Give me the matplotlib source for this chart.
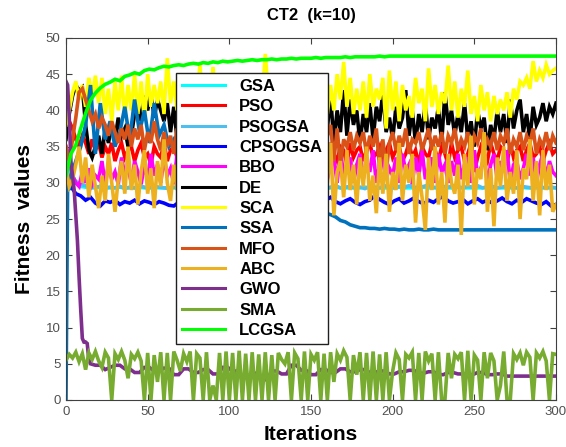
import numpy as np
import matplotlib
matplotlib.use("Agg")
import matplotlib.pyplot as plt

plt.rcParams['font.family'] = ['Liberation Sans', 'DejaVu Sans']

# iteration grids: every 2nd iteration for the very noisy curves,
# every 3rd for the smooth ones, denser starts for GWO and SSA
iters2 = np.arange(0, 301, 2)
iters3 = np.arange(0, 301, 3)
gwo_iters = np.r_[np.arange(0, 15), np.arange(15, 301, 3)]
ssa_iters = np.r_[0, 1, 2, np.arange(3, 301, 3)]

gsa = [34.0, 31.5, 30.0, 29.5, 29.4, 29.3, 29.3, 29.4, 29.3, 29.3,
       29.3, 29.4, 29.3, 29.3, 29.3, 29.4, 29.3, 29.3, 29.4, 29.3,
       29.3, 29.3, 29.3, 29.3, 29.4, 29.3, 29.3, 29.3, 29.3, 29.4,
       29.3, 29.3, 29.3, 29.3, 29.3, 29.4, 29.3, 29.3, 29.3, 29.3,
       29.3, 29.3, 29.4, 29.3, 29.3, 29.3, 29.3, 29.3, 29.4, 29.3,
       29.3, 29.3, 29.3, 29.3, 29.3, 29.4, 29.3, 29.3, 29.3, 29.3,
       29.3, 29.4, 29.3, 29.3, 29.3, 29.3, 29.3, 29.3, 29.4, 29.3,
       29.3, 29.3, 29.3, 29.4, 29.3, 29.3, 29.3, 29.3, 29.3, 29.3,
       29.4, 29.3, 29.3, 29.3, 29.3, 29.3, 29.4, 29.3, 29.3, 29.3,
       29.3, 29.3, 29.3, 29.4, 29.3, 29.3, 29.3, 29.3, 29.3, 29.3,
       29.3]

pso = [37.0, 38.5, 37.5, 36.0, 35.0, 36.5, 35.5, 34.0, 36.0, 34.5,
       35.5, 33.5, 35.0, 34.0, 35.5, 33.0, 34.5, 35.5, 33.5, 34.5,
       35.0, 33.0, 34.5, 35.5, 33.5, 34.0, 32.5, 35.0, 34.0, 33.5,
       35.5, 33.0, 34.5, 35.0, 33.5, 34.5, 32.5, 35.5, 34.0, 33.0,
       35.0, 33.5, 34.5, 35.5, 33.0, 34.0, 35.0, 32.5, 34.5, 35.5,
       33.5, 34.0, 35.0, 33.0, 34.5, 35.5, 33.5, 34.0, 32.5, 35.0,
       34.0, 33.0, 35.5, 34.5, 33.5, 35.0, 32.5, 34.0, 35.5, 33.5,
       34.5, 35.0, 33.0, 34.0, 35.5, 33.5, 34.5, 32.5, 35.0, 34.0,
       33.5, 35.5, 34.0, 33.0, 35.0, 34.5, 32.5, 35.5, 33.5, 34.5,
       35.0, 33.0, 34.5, 35.5, 33.5, 34.0, 35.0, 32.5, 34.5, 35.5,
       33.5, 34.5, 35.0, 33.0, 34.0, 35.5, 33.5, 34.5, 32.5, 35.0,
       34.0, 33.5, 35.5, 34.5, 33.0, 35.0, 34.0, 32.5, 35.5, 33.5,
       34.5, 35.0, 33.0, 34.0, 35.5, 31.5, 33.5, 35.0, 34.0, 33.0,
       35.5, 34.0, 33.0, 35.0, 34.5, 32.5, 35.5, 33.5, 34.5, 35.0,
       33.0, 34.5, 35.5, 33.5, 34.0, 35.0, 33.0, 34.5, 35.5, 34.0,
       34.5]

psogsa = [33.0, 31.0, 30.2, 29.8, 29.6, 29.5, 29.4, 29.5, 29.3, 29.4,
          29.3, 29.5, 29.2, 29.4, 29.3, 29.6, 29.4, 29.3, 29.5, 29.4,
          29.3, 29.2, 29.4, 29.3, 29.5, 29.3, 29.2, 29.4, 29.3, 29.5,
          29.4, 29.3, 29.2, 29.4, 29.3, 29.5, 29.4, 29.3, 29.2, 29.4,
          29.5, 29.3, 29.4, 29.6, 29.3, 29.4, 29.2, 29.5, 29.3, 29.4,
          29.3, 29.5, 29.4, 29.2, 29.4, 29.6, 29.3, 29.4, 29.5, 29.3,
          29.4, 29.2, 29.5, 29.4, 29.3, 29.6, 29.4, 29.3, 29.5, 29.4,
          29.6, 29.4, 29.3, 29.5, 29.7, 29.4, 29.3, 29.5, 29.4, 29.6,
          29.4, 29.3, 29.5, 29.4, 29.6, 29.3, 29.4, 29.5, 29.3, 29.4,
          29.6, 29.4, 29.3, 29.5, 29.4, 29.3, 29.5, 29.4, 29.3, 29.4,
          29.3]

cpsogsa = [31.0, 29.5, 28.5, 28.2, 27.6, 28.0, 27.2, 26.8, 27.5, 27.3,
           27.6, 27.0, 27.4, 27.2, 27.6, 27.1, 27.5, 27.3, 27.0, 27.4,
           27.2, 26.9, 26.8, 27.3, 27.6, 27.1, 27.4, 27.8, 27.2, 27.5,
           27.0, 27.4, 27.7, 27.1, 27.3, 27.6, 27.0, 27.4, 27.2, 27.8,
           27.3, 27.0, 27.5, 27.2, 27.6, 27.1, 27.4, 27.7, 27.0, 27.3,
           27.5, 27.8, 27.2, 27.6, 28.0, 27.4, 27.1, 27.5, 27.8, 27.3,
           27.0, 27.4, 27.6, 28.2, 27.7, 27.3, 27.0, 27.5, 27.8, 27.2,
           27.5, 27.9, 27.4, 27.1, 27.6, 27.3, 27.8, 28.1, 27.5, 27.2,
           27.4, 27.7, 27.1, 27.5, 27.8, 27.3, 27.6, 27.2, 27.5, 27.9,
           27.4, 27.1, 27.6, 27.3, 27.8, 27.5, 27.2, 27.0, 27.4, 26.8,
           27.0]

bbo = [35.0, 33.5, 31.0, 30.0, 29.5, 31.5, 30.0, 32.0, 29.8, 31.0,
       30.5, 33.0, 29.8, 32.5, 30.5, 31.5, 29.8, 33.5, 31.0, 32.0,
       30.0, 33.0, 31.5, 29.8, 32.5, 30.5, 34.0, 31.0, 32.5, 30.0,
       33.5, 31.0, 32.0, 29.8, 34.0, 30.5, 32.5, 31.0, 33.0, 30.0,
       32.0, 34.0, 30.5, 33.0, 31.0, 29.8, 32.5, 34.5, 30.5, 32.0,
       31.0, 33.5, 30.0, 32.5, 34.0, 30.5, 32.0, 33.5, 29.8, 31.5,
       33.0, 30.5, 34.0, 31.5, 32.5, 30.0, 33.5, 31.0, 34.0, 30.5,
       32.0, 33.5, 30.0, 34.5, 31.5, 32.5, 30.0, 33.0, 31.0, 34.0,
       30.5, 32.5, 33.5, 30.0, 34.5, 31.0, 32.0, 33.5, 30.0, 32.5,
       34.0, 30.5, 33.0, 31.5, 34.5, 30.0, 32.5, 33.0, 30.5, 32.0,
       31.0, 33.5, 30.0, 34.0, 31.5, 32.5, 29.8, 33.5, 31.0, 34.5,
       30.5, 32.0, 33.5, 30.0, 34.0, 31.5, 32.5, 30.0, 33.0, 31.0,
       34.0, 30.5, 32.5, 33.5, 30.0, 34.5, 31.0, 32.0, 33.5, 30.0,
       32.5, 34.0, 30.5, 33.0, 31.5, 34.5, 30.0, 32.5, 33.0, 30.5,
       32.0, 34.0, 31.0, 33.5, 30.0, 32.5, 34.0, 30.5, 33.0, 31.5,
       31.0]

de = [36.0, 39.5, 42.0, 43.5, 42.8, 43.2, 38.0, 34.5, 33.5, 35.0,
      36.5, 34.0, 37.5, 35.5, 38.0, 36.0, 39.0, 36.5, 37.5, 35.0,
      36.5, 39.5, 41.0, 38.5, 42.0, 40.0, 42.5, 39.0, 41.5, 40.0,
      38.5, 41.0, 37.0, 40.5, 36.0, 39.5, 37.5, 41.0, 36.5, 39.0,
      37.0, 40.5, 36.0, 39.5, 38.0, 41.0, 36.5, 40.0, 37.5, 39.0,
      36.0, 40.5, 37.0, 39.5, 36.5, 41.0, 37.5, 40.0, 36.0, 39.0,
      37.5, 40.5, 36.5, 39.0, 37.0, 41.5, 36.0, 39.5, 38.0, 40.5,
      36.5, 39.0, 37.5, 40.5, 36.0, 39.5, 37.0, 41.0, 36.5, 40.0,
      37.5, 42.0, 35.5, 40.0, 37.0, 42.8, 36.5, 41.5, 38.0, 40.0,
      35.5, 39.5, 37.0, 41.0, 36.0, 40.5, 38.5, 42.5, 37.0, 39.0,
      36.0, 40.5, 37.5, 39.0, 42.8, 36.5, 40.0, 35.5, 39.5, 37.0,
      41.0, 36.0, 39.0, 37.5, 40.5, 35.5, 42.5, 38.0, 40.0, 36.5,
      39.5, 37.0, 41.0, 36.0, 38.5, 35.0, 40.0, 37.5, 39.0, 34.5,
      38.0, 36.0, 40.0, 37.0, 39.5, 35.5, 41.5, 37.5, 40.0, 41.5,
      37.0, 39.5, 36.0, 40.5, 38.0, 39.0, 41.0, 38.5, 40.5, 39.5,
      41.0]

sca = [38.0, 40.0, 42.5, 44.0, 41.5, 43.5, 40.5, 44.5, 42.0, 44.8,
       41.0, 44.5, 39.5, 43.0, 38.5, 44.0, 40.0, 44.8, 39.0, 43.5,
       40.0, 45.0, 39.5, 44.0, 38.5, 45.0, 40.5, 43.5, 41.0, 44.0,
       39.5, 47.2, 41.0, 44.0, 40.0, 43.5, 39.0, 44.5, 40.5, 43.0,
       41.5, 46.3, 40.0, 44.0, 39.5, 46.0, 41.0, 43.5, 39.0, 44.5,
       40.5, 43.0, 39.5, 44.5, 41.0, 43.5, 39.0, 44.0, 40.5, 43.0,
       41.0, 47.8, 42.0, 44.0, 39.5, 43.5, 40.5, 44.0, 39.0, 43.0,
       40.0, 44.5, 39.5, 43.0, 41.0, 44.5, 39.0, 43.5, 40.5, 44.0,
       39.5, 43.5, 40.0, 45.0, 41.5, 46.7, 40.5, 44.5, 39.5, 43.0,
       40.0, 44.0, 39.0, 45.0, 40.5, 43.0, 41.5, 44.5, 37.5, 45.5,
       40.0, 44.0, 38.5, 43.5, 40.0, 42.0, 39.0, 44.5, 41.0, 43.0,
       38.5, 45.8, 40.5, 43.5, 39.5, 42.5, 41.0, 46.2, 40.0, 44.0,
       39.0, 43.0, 40.5, 45.5, 39.5, 42.0, 38.5, 43.5, 40.0, 42.5,
       38.5, 42.0, 39.5, 41.5, 40.0, 42.5, 39.0, 43.0, 41.5, 44.0,
       43.5, 44.5, 43.0, 46.8, 44.0, 45.5, 44.5, 46.3, 45.0, 45.5,
       45.8]

ssa = [0.0, 30.0, 29.0,
       31.0, 33.0, 35.0, 38.0, 43.5, 34.0, 41.0, 36.0, 38.5, 35.0,
       37.0, 40.5, 36.0, 41.5, 37.0, 40.0, 35.5, 41.0, 36.5, 38.0,
       35.0, 36.0, 34.0, 35.0, 33.0, 34.0, 32.0, 33.0, 31.5, 32.0,
       30.5, 31.0, 30.0, 30.0, 29.0, 29.5, 28.5, 28.5, 28.0, 28.0,
       27.5, 27.5, 27.0, 27.0, 26.8, 26.5, 26.5, 26.3, 26.2, 26.0,
       26.0, 25.8, 25.8, 25.6, 25.3, 24.8, 24.6, 24.2, 24.0, 23.8,
       23.8, 23.7, 23.7, 23.6, 23.7, 23.6, 23.6, 23.5, 23.6, 23.5,
       23.5, 23.6, 23.5, 23.5, 23.6, 23.5, 23.5, 23.5, 23.5, 23.5,
       23.5, 23.5, 23.5, 23.5, 23.5, 23.5, 23.5, 23.5, 23.5, 23.5,
       23.5, 23.5, 23.5, 23.5, 23.5, 23.5, 23.5, 23.5, 23.5, 23.5]

mfo = [35.0, 33.0, 36.0, 39.0, 42.5, 43.0, 41.5, 40.0, 38.5, 39.5,
       37.5, 39.0, 38.0, 36.5, 38.5, 37.0, 35.5, 37.5, 36.0, 38.0,
       35.0, 37.5, 36.0, 38.0, 34.5, 37.0, 35.5, 38.5, 36.0, 34.5,
       37.0, 35.0, 36.5, 34.0, 37.5, 35.5, 36.0, 34.5, 37.0, 35.0,
       36.5, 34.5, 37.5, 35.0, 36.0, 34.0, 37.0, 35.5, 36.5, 34.5,
       37.0, 35.0, 36.0, 34.5, 37.5, 35.5, 36.5, 34.0, 37.0, 35.0,
       36.5, 34.5, 37.0, 35.5, 36.0, 34.0, 37.5, 35.0, 36.5, 35.5,
       37.0, 34.5, 36.0, 35.0, 37.5, 34.5, 36.5, 35.5, 37.0, 34.0,
       36.5, 38.0, 33.0, 37.5, 32.5, 36.0, 35.0, 37.0, 34.5, 36.5,
       35.5, 37.0, 34.0, 36.5, 35.0, 37.5, 32.0, 36.0, 31.5, 35.5,
       37.0, 34.5, 36.5, 35.0, 37.5, 34.0, 36.0, 35.5, 37.0, 34.5,
       36.0, 37.5, 34.5, 36.5, 35.0, 37.0, 34.0, 36.5, 35.5, 37.5,
       34.5, 36.0, 35.0, 37.0, 34.0, 36.5, 35.5, 37.5, 34.5, 36.0,
       35.0, 37.0, 34.5, 36.5, 35.5, 37.5, 34.0, 36.0, 35.0, 37.0,
       34.5, 36.5, 35.5, 37.5, 34.0, 36.0, 35.0, 37.0, 34.5, 36.5,
       35.5]

abc = [32.0, 29.5, 30.5, 32.5, 35.0, 30.0, 33.5, 28.0, 32.5, 29.5,
       26.5, 31.0, 27.5, 34.0, 30.0, 26.0, 30.5, 33.0, 28.5, 35.0,
       29.0, 32.5, 27.0, 31.5, 34.5, 28.5, 32.0, 26.5, 33.0, 29.5,
       36.0, 30.0, 27.5, 32.5, 29.0, 34.5, 27.0, 31.5, 35.0, 28.5,
       30.5, 33.5, 26.5, 31.0, 34.0, 28.0, 32.5, 29.5, 35.5, 27.5,
       31.0, 33.5, 29.0, 32.0, 35.0, 28.5, 30.5, 26.0, 33.0, 29.0,
       34.5, 27.5, 31.5, 33.5, 28.0, 31.0, 26.0, 35.0, 29.5, 32.0,
       28.0, 33.5, 30.0, 34.0, 27.0, 31.5, 29.0, 33.5, 26.5, 32.0,
       30.0, 35.5, 25.5, 31.5, 33.0, 28.0, 34.5, 29.0, 32.5, 27.0,
       33.5, 29.5, 35.0, 27.5, 31.0, 25.8, 33.5, 28.5, 34.0, 26.0,
       31.5, 29.0, 35.5, 27.5, 32.5, 30.0, 34.0, 24.5, 31.5, 28.0,
       23.5, 33.5, 29.0, 35.0, 27.0, 31.5, 24.5, 34.0, 30.0, 28.5,
       32.5, 22.8, 34.0, 29.5, 36.5, 27.0, 32.0, 30.5, 37.0, 26.0,
       32.0, 24.0, 33.5, 29.5, 35.0, 27.5, 31.5, 28.5, 34.5, 25.0,
       32.0, 30.5, 36.0, 27.5, 33.0, 25.5, 34.5, 29.0, 32.5, 26.0,
       27.0]

gwo = [44.0, 43.5, 39.0, 33.0, 31.0, 29.0, 25.5, 22.0, 17.0, 12.5,
       8.5, 8.0, 8.0, 7.8, 5.5,
       5.0, 4.8, 4.8, 4.2, 4.5, 4.8, 4.8, 4.3, 4.3, 3.8,
       3.8, 4.5, 4.5, 4.0, 4.0, 4.4, 4.4, 3.5, 3.5, 4.3,
       4.3, 3.8, 3.8, 4.2, 4.2, 3.6, 3.6, 4.5, 4.5, 4.0,
       4.0, 3.2, 3.2, 3.7, 3.7, 2.8, 2.8, 4.0, 4.0, 3.6,
       3.6, 4.8, 4.8, 4.1, 4.1, 3.5, 3.5, 4.2, 4.2, 3.8,
       3.8, 4.3, 4.3, 3.9, 3.9, 4.2, 4.2, 3.8, 3.8, 4.0,
       4.0, 3.6, 3.6, 3.9, 3.9, 4.1, 4.1, 3.7, 3.7, 3.9,
       3.9, 3.5, 3.5, 3.8, 3.8, 3.6, 3.6, 3.5, 3.5, 3.8,
       3.8, 3.5, 3.5, 3.6, 3.6, 3.3, 3.3, 3.3, 3.3, 3.3,
       3.3, 3.3, 3.3, 3.3, 3.3, 3.3]

sma = [5.5, 6.3, 5.8, 6.6, 5.3, 6.4, 4.2, 6.5, 5.6, 6.7,
       5.4, 4.5, 6.6, 5.8, 0.0, 6.4, 5.6, 6.7, 5.5, 3.0,
       6.3, 5.7, 6.6, 5.4, 0.0, 6.5, 0.0, 6.2, 2.5, 6.6,
       0.0, 6.5, 0.0, 6.7, 5.5, 4.0, 6.4, 5.3, 6.7, 0.0,
       6.4, 5.8, 0.0, 6.6, 0.0, 2.0, 0.0, 6.5, 0.0, 6.7,
       0.0, 6.5, 0.0, 6.8, 0.0, 6.4, 0.0, 6.6, 0.0, 6.3,
       0.0, 6.6, 0.0, 6.2, 0.0, 6.5, 5.6, 5.0, 6.6, 0.0,
       6.5, 5.7, 0.0, 6.7, 0.0, 6.3, 5.5, 6.6, 0.0, 6.4,
       0.0, 6.6, 2.5, 6.4, 5.5, 6.8, 5.9, 0.0, 6.2, 3.5,
       6.6, 0.0, 6.5, 0.0, 6.7, 0.0, 6.3, 0.0, 6.6, 0.0,
       4.0, 6.5, 5.6, 0.0, 6.3, 5.8, 6.6, 0.0, 6.5, 0.0,
       6.7, 5.4, 6.4, 0.0, 6.6, 0.0, 0.0, 6.5, 3.0, 6.3,
       5.7, 6.6, 0.0, 6.8, 0.0, 6.2, 5.5, 0.0, 6.6, 3.0,
       6.5, 5.4, 0.0, 2.0, 6.7, 0.0, 0.0, 6.4, 5.6, 6.5,
       4.8, 6.6, 5.9, 0.0, 6.5, 5.8, 6.7, 5.4, 0.0, 6.4,
       6.3]

lcgsa = [31.0, 34.0, 35.2, 37.5, 39.6, 41.4, 42.4, 43.1, 43.6, 43.9,
         44.3, 44.1, 44.7, 44.9, 45.2, 45.0, 45.5, 45.7, 45.6, 45.9,
         46.1, 46.0, 46.2, 46.3, 46.2, 46.4, 46.5, 46.4, 46.6, 46.5,
         46.7, 46.6, 46.8, 46.7, 46.8, 46.9, 46.8, 46.9, 47.0, 46.9,
         47.0, 47.0, 47.1, 47.0, 47.1, 47.1, 47.2, 47.1, 47.2, 47.2,
         47.2, 47.3, 47.2, 47.3, 47.3, 47.3, 47.3, 47.4, 47.3, 47.4,
         47.4, 47.4, 47.4, 47.4, 47.5, 47.4, 47.5, 47.5, 47.5, 47.5,
         47.5, 47.5, 47.5, 47.5, 47.5, 47.5, 47.5, 47.5, 47.5, 47.5,
         47.5, 47.5, 47.5, 47.5, 47.5, 47.5, 47.5, 47.5, 47.5, 47.5,
         47.5, 47.5, 47.5, 47.5, 47.5, 47.5, 47.5, 47.5, 47.5, 47.5,
         47.5]

labels = ['GSA', 'PSO', 'PSOGSA', 'CPSOGSA', 'BBO', 'DE', 'SCA', 'SSA',
          'MFO', 'ABC', 'GWO', 'SMA', 'LCGSA']
colors = ['#00FFFF', '#FF0000', '#4DBEEE', '#0000FF', '#FF00FF', '#000000',
          '#FFFF00', '#0072BD', '#D95319', '#EDB120', '#7E2F8E', '#77AC30',
          '#00FF00']

series = [(iters3, gsa), (iters2, pso), (iters3, psogsa), (iters3, cpsogsa),
          (iters2, bbo), (iters2, de), (iters2, sca), (ssa_iters, ssa),
          (iters2, mfo), (iters2, abc), (gwo_iters, gwo), (iters2, sma),
          (iters3, lcgsa)]

fig = plt.figure(figsize=(5.66, 4.47), dpi=100)
ax = fig.add_axes([66 / 566, 47 / 447, 490 / 566, 362 / 447])

for (x, y), lab, col in zip(series, labels, colors):
    ax.plot(x, y, color=col, lw=2.6, label=lab, solid_joinstyle='miter')

ax.set_xlim(0, 300)
ax.set_ylim(0, 50)
ax.set_xticks(np.arange(0, 301, 50))
ax.set_yticks(np.arange(0, 51, 5))
ax.tick_params(direction='in', top=True, right=True, length=4, width=0.8,
               labelsize=9.5, labelcolor='#505050', color='#404040', pad=4)
for sp in ax.spines.values():
    sp.set_color('#404040')
    sp.set_linewidth(0.8)

ax.set_title('CT2  (k=10)', fontsize=12, fontweight='bold', pad=13)
ax.set_xlabel('Iterations', fontsize=15, fontweight='bold', labelpad=5)
ax.set_ylabel('Fitness  values', fontsize=15, fontweight='bold', labelpad=8)

leg = ax.legend(loc='upper left', bbox_to_anchor=(110 / 490, 327 / 362),
                borderaxespad=0, fontsize=12, handlelength=2.6,
                handletextpad=0.85, labelspacing=0.32, borderpad=0.35,
                fancybox=False, framealpha=1, edgecolor='#202020')
for t in leg.get_texts():
    t.set_fontweight('bold')
for h in leg.get_lines():
    h.set_linewidth(2.2)
leg.get_frame().set_linewidth(1.0)

fig.savefig('out.png', dpi=100)
